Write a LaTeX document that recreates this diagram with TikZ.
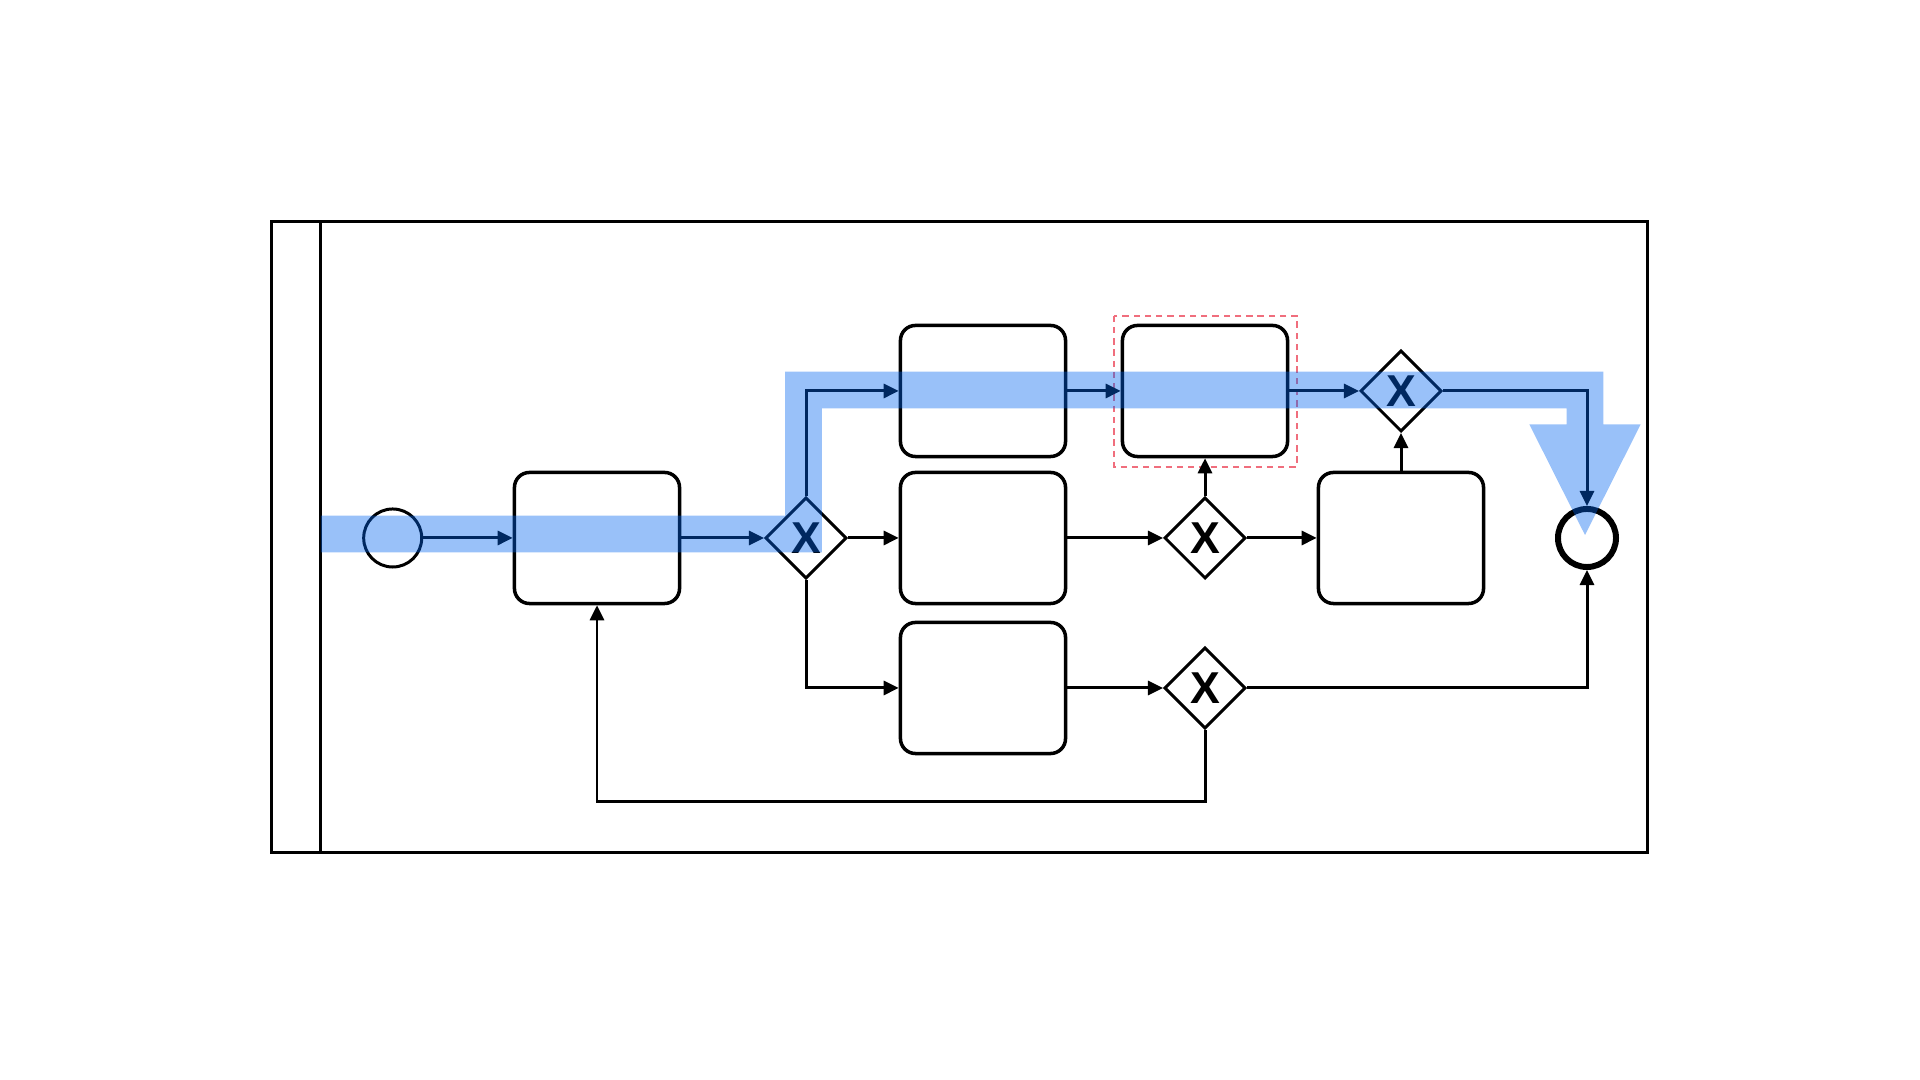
\documentclass[tikz,border=0pt]{standalone}
\usepackage{fontspec}
\usepackage{xcolor}
\usepackage{tikz}
\usetikzlibrary{shapes.geometric, arrows.meta, positioning}
\newfontfamily\gatefont{Liberation Sans}
\definecolor{pathblue}{RGB}{0,100,240}
\definecolor{selred}{RGB}{240,110,125}

\begin{document}
\begin{tikzpicture}[x=0.01cm,y=-0.01cm,
    task/.style={draw,line width=1pt,rounded corners=0.15cm,fill=white,minimum width=1.65cm,minimum height=1.31cm},
    gateway/.style={draw,diamond,line width=0.85pt,fill=white,minimum size=0.81cm,inner sep=0pt,font=\gatefont\bfseries\fontsize{12.7}{14}\selectfont},
    event/.style={draw,circle,fill=white,minimum size=0.58cm,inner sep=0pt},
    flow/.style={line width=0.85pt,-{Triangle[length=4.3pt,width=4pt]}}]
    \useasboundingbox (0,0) rectangle (1920,1080);

    % Pool e corsia
    \draw[line width=0.85pt] (271.8,221.6) rectangle (1647,852.3);
    \draw[line width=0.85pt] (320.8,221.6) -- (320.8,852.3);

    % Eventi
    \node[event,line width=0.85pt] (start) at (392.7,538) {};
    \node[event,line width=1.7pt] (end) at (1587,538) {};

    % Attivita
    \node[task] (ta) at (597,538) {};
    \node[task] (tb) at (983,391) {};
    \node[task] (tc) at (983,538) {};
    \node[task] (td) at (983,688) {};
    \node[task] (te) at (1205,391) {};
    \node[task] (tf) at (1401,538) {};

    % Gateway
    \node[gateway] (g1) at (806,538) {X};
    \node[gateway] (g2) at (1205,538) {X};
    \node[gateway] (g3) at (1205,688) {X};
    \node[gateway] (g4) at (1401,391) {X};

    % Selezione
    \draw[selred,line width=0.5pt,dash pattern=on 1.8pt off 1.4pt] (1114,315.7) rectangle (1296.7,466.7);

    % Flussi
    \coordinate (back) at (597,802);
    \draw[flow] (start) -- (ta);
    \draw[flow] (ta) -- (g1);
    \draw[flow] (g1.north) |- (tb.west);
    \draw[flow] (g1.east) -- (tc.west);
    \draw[flow] (g1.south) |- (td.west);
    \draw[flow] (tb.east) -- (te.west);
    \draw[flow] (tc.east) -- (g2.west);
    \draw[flow] (g2.north) -- (te.south);
    \draw[flow] (g2.east) -- (tf.west);
    \draw[flow] (tf.north) -- (g4.south);
    \draw[flow] (te.east) -- (g4.west);
    \draw[flow] (g4.east) -| (end.north);
    \draw[flow] (td.east) -- (g3.west);
    \draw[flow] (g3.east) -| (end.south);
    \draw[flow] (g3.south) |- (back) -- (ta.south);

    % Percorso evidenziato
    \fill[pathblue,fill opacity=0.4] (320.8,515.7) -- (785.2,515.7) -- (785.2,371.7) -- (1603.3,371.7)
        -- (1603.3,424.3) -- (1640.7,424.3) -- (1585,535) -- (1529.3,424.3) -- (1566.7,424.3)
        -- (1566.7,408.3) -- (821.8,408.3) -- (821.8,552.3) -- (320.8,552.3) -- cycle;
\end{tikzpicture}
\end{document}
